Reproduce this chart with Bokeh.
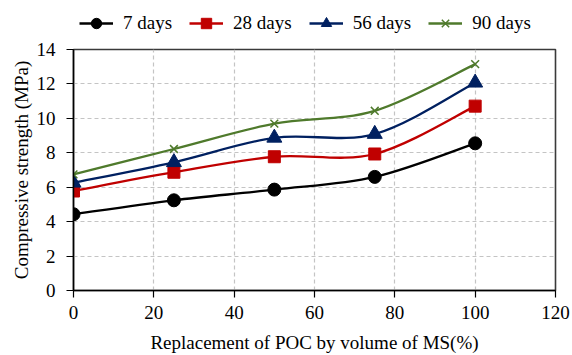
from bokeh.plotting import figure
from bokeh.models import Range1d, Legend, LegendItem, FixedTicker, ColumnDataSource
from bokeh.layouts import column
from bokeh.embed import file_html
from bokeh.resources import INLINE

# Data
replacement = [0, 25, 50, 75, 100]
days7 = [4.43, 5.24, 5.86, 6.60, 8.55]
days28 = [5.78, 6.87, 7.77, 7.93, 10.71]
days56 = [6.26, 7.45, 8.87, 9.09, 12.07]
days90 = [6.75, 8.22, 9.69, 10.44, 13.15]
series_labels = ["7 days", "28 days", "56 days", "90 days"]
x_ticks = [0, 20, 40, 60, 80, 100, 120]
y_ticks = [0, 2, 4, 6, 8, 10, 12, 14]

colors = ["#000000", "#C00000", "#002060", "#4F7A2C"]
markers = ["circle", "square", "triangle", "x"]
sizes = [13, 12, 15, 11]

FONT = "Liberation Serif"
FS = "19px"

# ---- main chart ----
p = figure(width=572, height=315, output_backend="svg", toolbar_location=None,
           x_range=Range1d(0, 120), y_range=Range1d(0, 14),
           min_border_left=73, min_border_right=17, min_border_top=9, min_border_bottom=64)

p.background_fill_color = "white"
p.border_fill_color = "white"
p.outline_line_color = "#3A3A3A"
p.outline_line_width = 1.6

for ax in (p.xaxis[0], p.yaxis[0]):
    ax.axis_line_color = "black"
    ax.axis_line_width = 1.5
    ax.major_tick_line_color = "black"
    ax.major_tick_line_width = 1.2
    ax.major_tick_out = 7
    ax.major_tick_in = 0
    ax.minor_tick_line_color = None
    ax.major_label_text_font = FONT
    ax.major_label_text_font_size = FS
    ax.major_label_text_color = "black"
    ax.axis_label_text_font = FONT
    ax.axis_label_text_font_size = FS
    ax.axis_label_text_font_style = "normal"
    ax.axis_label_text_color = "black"

p.xaxis.ticker = FixedTicker(ticks=x_ticks)
p.yaxis.ticker = FixedTicker(ticks=y_ticks)
p.xaxis.axis_label = "Replacement of POC by volume of MS(%)"
p.yaxis.axis_label = "Compressive strength (MPa)"
p.xaxis.major_label_standoff = 8
p.yaxis.major_label_standoff = 11
p.xaxis.axis_label_standoff = 10
p.yaxis.axis_label_standoff = 2

p.xgrid.grid_line_color = "#C4C4C4"
p.ygrid.grid_line_color = "#C4C4C4"
p.xgrid.grid_line_dash = "4 3"
p.ygrid.grid_line_dash = "4 3"
p.xgrid.grid_line_width = 1.2
p.ygrid.grid_line_width = 1.2


def smooth_segments(xs, ys):
    n = len(xs)
    x0, y0, x1, y1, cx0, cy0, cx1, cy1 = [], [], [], [], [], [], [], []
    for i in range(n - 1):
        im1 = max(i - 1, 0)
        ip2 = min(i + 2, n - 1)
        x0.append(xs[i]); y0.append(ys[i])
        x1.append(xs[i + 1]); y1.append(ys[i + 1])
        cx0.append(xs[i] + (xs[i + 1] - xs[im1]) / 6.0)
        cy0.append(ys[i] + (ys[i + 1] - ys[im1]) / 6.0)
        cx1.append(xs[i + 1] - (xs[ip2] - xs[i]) / 6.0)
        cy1.append(ys[i + 1] - (ys[ip2] - ys[i]) / 6.0)
    return dict(x0=x0, y0=y0, x1=x1, y1=y1, cx0=cx0, cy0=cy0, cx1=cx1, cy1=cy1)


for ys, col, mk, sz in zip([days7, days28, days56, days90], colors, markers, sizes):
    seg = ColumnDataSource(smooth_segments(replacement, ys))
    p.bezier(x0="x0", y0="y0", x1="x1", y1="y1", cx0="cx0", cy0="cy0", cx1="cx1", cy1="cy1",
             source=seg, line_color=col, line_width=2.3)
    if mk == "x":
        p.scatter(replacement, ys, marker=mk, size=sz, line_color=col, line_width=1.5)
    else:
        p.scatter(replacement, ys, marker=mk, size=sz, fill_color=col, line_color=col)

# ---- legend strip ----
lg = figure(width=572, height=40, output_backend="svg", toolbar_location=None,
            x_range=Range1d(0, 1), y_range=Range1d(0, 1),
            x_axis_location=None, y_axis_location=None,
            min_border_left=0, min_border_right=0, min_border_top=0, min_border_bottom=0)
lg.grid.visible = False
lg.outline_line_color = None
lg.background_fill_color = "white"
lg.border_fill_color = "white"

items = []
for lab, col, mk in zip(series_labels, colors, markers):
    # legend-only renderers placed outside the strip's visible range
    l = lg.line([5, 6], [5, 5], line_color=col, line_width=2.3)
    if mk == "x":
        s = lg.scatter([5], [5], marker=mk, size=10, line_color=col, line_width=1.5)
    else:
        s = lg.scatter([5], [5], marker=mk, size=10, fill_color=col, line_color=col)
    items.append(LegendItem(label=lab, renderers=[l, s]))

legend = Legend(items=items, orientation="horizontal", location=(6, 4),
                label_text_font=FONT, label_text_font_size="19px", label_text_color="black",
                glyph_width=34, glyph_height=26, spacing=17, label_standoff=10,
                border_line_color=None, background_fill_alpha=0, padding=4, margin=0)
lg.add_layout(legend, "center")

open("out.html", "w").write(file_html(column(lg, p, spacing=0), INLINE))
